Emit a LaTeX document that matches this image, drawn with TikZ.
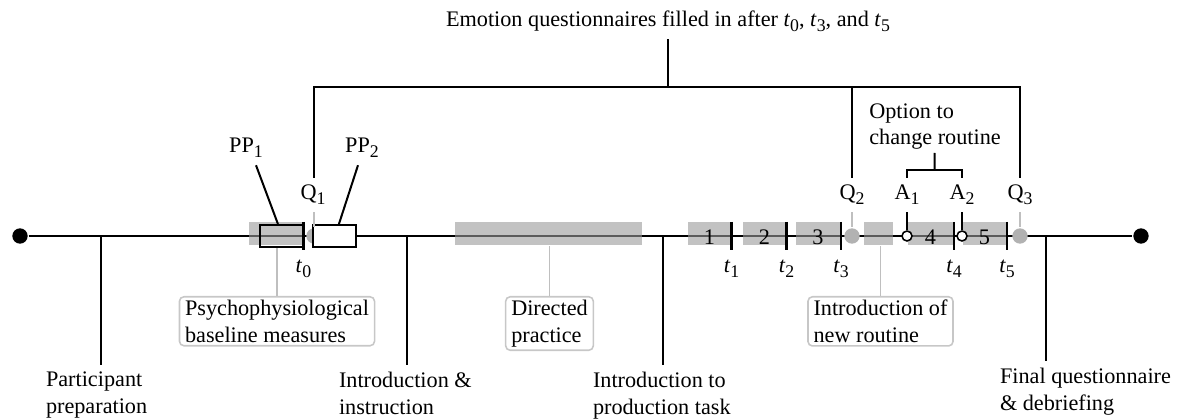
\documentclass[tikz,border=0pt]{standalone}
\usepackage{fontspec}
\setmainfont{Liberation Serif}
\usetikzlibrary{positioning}
\newcommand{\lowsub}[1]{\raisebox{-0.45ex}{\footnotesize #1}}
\newcommand{\tsub}[1]{\textit{t}\lowsub{#1}}
\tikzset{
  time block/.style={fill=black!40, fill opacity=.6, text opacity=1, inner sep=0pt, minimum height=10.35pt, text height=9.8pt, text depth=0pt},
  pp box/.style={draw, line width=0.9pt, inner sep=0pt, minimum width=19.35pt, minimum height=9.9pt},
  q dot/.style={circle, fill=black!30, inner sep=0pt, minimum size=6.9pt},
  end dot/.style={circle, fill=black, inner sep=0pt, minimum size=6.9pt},
  answer dot/.style={circle, draw, fill=white, line width=0.7pt, inner sep=0pt, minimum size=4.5pt},
  tick mark/.style={line width=1.2pt},
  small label/.style={anchor=base, inner sep=3pt},
  info box/.style={draw=black!22, line width=0.7pt, rounded corners=2pt, align=left, anchor=north, inner xsep=2.5pt, inner ysep=1.5pt},
  bottom label/.style={align=left, anchor=north west, inner sep=0pt},
  gray link/.style={draw=black!25, line width=0.7pt},
  drop line/.style={shorten >=2.7pt},
}

\begin{document}
\begin{tikzpicture}[x=0.45pt, y=-0.45pt, line width=0.9pt]
\useasboundingbox (0,0) rectangle (1182,419);
%the main line
\node [end dot] (start) at (20,236) {};
\node [end dot] (stop) at (1141,236) {};
\draw (start) -- (stop);
%the blocks
\node [time block, minimum width=24.75pt] (base) at (276.5,233.5) {};
\node [time block, minimum width=84.15pt] (direct) at (548.5,233.5) {};
\node [time block, minimum width=19.35pt] (b1) at (709.5,233.5) {1};
\node [time block, minimum width=19.35pt] (b2) at (764.5,233.5) {2};
\node [time block, minimum width=19.8pt] (b3) at (818,233.5) {3};
\node [time block, minimum width=13.05pt] (newr) at (878.5,233.5) {};
\node [time block, minimum width=20.25pt] (b4) at (930.5,233.5) {4};
\node [time block, minimum width=19.35pt] (b5) at (984.5,233.5) {5};
\node [pp box] (ppbox1) at (281.5,236) {};
\node [q dot] (qd1) at (314,236) {};
\node [pp box, fill=white] (ppbox2) at (334.5,236) {};
\node [q dot] (qd2) at (852,236) {};
\node [q dot] (qd3) at (1020,236) {};
\node [answer dot] (ad1) at (907,236) {};
\node [answer dot] (ad2) at (962,236) {};
%ticks and times
\foreach \x/\n in {303.5/0, 731.5/1, 786.5/2, 841/3, 954/4, 1007/5} {
  \coordinate (k\n) at (\x,236);
  \draw [tick mark] ([yshift=6.3pt]k\n) -- ([yshift=-6.3pt]k\n);
  \node [small label] (t\n) at (\x,273) {\tsub{\n}};
}
%labels above
\node [small label] (title) at (668,27) {Emotion questionnaires filled in after \tsub{0}, \tsub{3}, and \tsub{5}};
\coordinate (bar) at (668,87);
\node [small label] (q1) at (313,200) {Q\lowsub{1}};
\node [small label] (q2) at (852,200) {Q\lowsub{2}};
\node [small label] (q3) at (1020,200) {Q\lowsub{3}};
\node [small label] (a1) at (907,200) {A\lowsub{1}};
\node [small label] (a2) at (962,200) {A\lowsub{2}};
\node [small label] (pp1) at (246,153) {PP\lowsub{1}};
\node [small label] (pp2) at (362,153) {PP\lowsub{2}};
\node [align=left, anchor=south, inner sep=1pt] (opt) at (935,153) {Option to\\change routine};
\coordinate (brk) at (934.5,170);
%labels below
\node [info box] (ibase) at (277,296) {Psychophysiological\\baseline measures};
\node [info box] (idirect) at (549.5,296) {Directed\\practice};
\node [info box] (inew) at (880.5,296) {Introduction of\\new routine};
\node [bottom label] (lprep) at (45,371) {Participant\\preparation};
\node [bottom label] (linstr) at (338,371) {Introduction \&\\instruction};
\node [bottom label] (lprod) at (592,371) {Introduction to\\production task};
\node [bottom label] (lfinal) at (999,367) {Final questionnaire\\\& debriefing};
\coordinate (mprep) at (100.7,236);
\coordinate (minstr) at (407,236);
\coordinate (mprod) at (663,236);
\coordinate (mfinal) at (1046,236);
%connections
\draw (title) -- (bar);
\draw (qd1 |- q1.north) |- (bar) -| (qd3 |- q3.north);
\draw (qd2 |- q2.north) -- (qd2 |- bar);
\draw [gray link] (qd1 |- q1.south) -- (qd1);
\draw [gray link] (qd2 |- q2.south) -- (qd2);
\draw [gray link] (qd3 |- q3.south) -- (qd3);
\draw (ad1) -- (ad1 |- a1.south);
\draw (ad2) -- (ad2 |- a2.south);
\draw (ad1 |- a1.north) |- (brk) -| (ad2 |- a2.north);
\draw (brk) -- (opt);
\draw ([xshift=4.5pt]pp1.south) -- ([xshift=-1.6pt]ppbox1.north);
\draw ([xshift=-1.8pt]pp2.south) -- ([xshift=2pt]ppbox2.north);
\draw [gray link] (ibase.north) -- (ibase.north |- ppbox1.south);
\draw [gray link] (idirect.north) -- (idirect.north |- direct.south);
\draw [gray link] (inew.north) -- (inew.north |- newr.south);
\draw [drop line] (mprep) -- (mprep |- lprep.north);
\draw [drop line] (minstr) -- (minstr |- linstr.north);
\draw [drop line] (mprod) -- (mprod |- lprod.north);
\draw [drop line] (mfinal) -- (mfinal |- lfinal.north);
\end{tikzpicture}
\end{document}
